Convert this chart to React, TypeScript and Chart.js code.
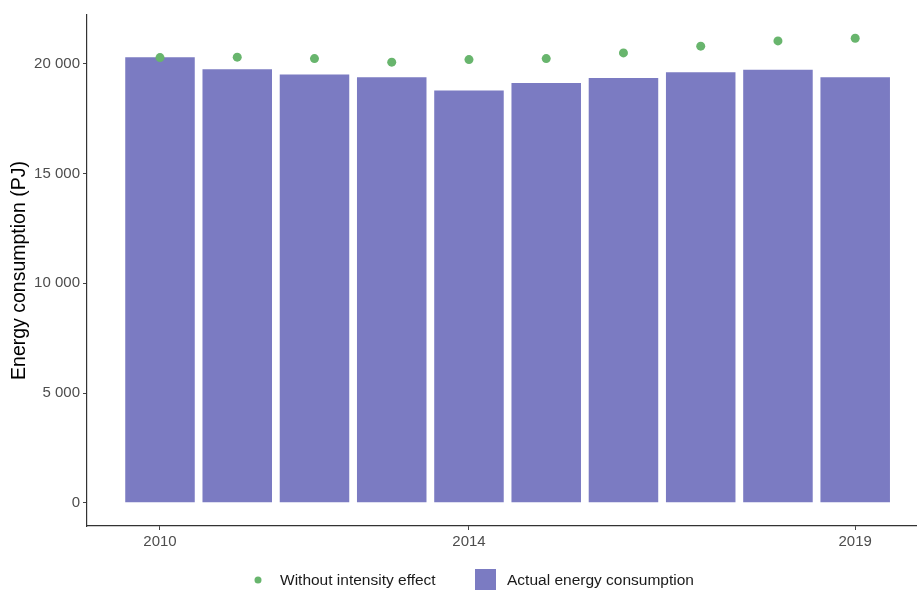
import React, { useEffect, useRef } from "react";
import { Chart, registerables } from "chart.js";

Chart.register(...registerables);

// Annual energy consumption, 2010–2019 (PJ)
const years = [2010, 2011, 2012, 2013, 2014, 2015, 2016, 2017, 2018, 2019];
const actualConsumption = [20305, 19759, 19514, 19395, 18786, 19123, 19350, 19623, 19727, 19395];
const withoutIntensityEffect = [20286, 20305, 20241, 20077, 20195, 20241, 20500, 20805, 21045, 21168];
const xTickValues = [2010, 2014, 2019];
const yTickValues = [0, 5000, 10000, 15000, 20000];

const seriesLabels = ["Without intensity effect", "Actual energy consumption"];
const BAR_COLOR = "#7b7bc2";
const DOT_COLOR = "#68b56d";
const FONT = "'Liberation Sans', Arial, sans-serif";

const formatThousands = (v: number) =>
  String(Math.round(v)).replace(/\B(?=(\d{3})+(?!\d))/g, " ");

// Bottom legend: small dot for the points, filled square for the bars
const bottomLegend = {
  id: "bottomLegend",
  afterDraw(chart: any) {
    const ctx = chart.ctx as CanvasRenderingContext2D;
    const y = 581;
    ctx.save();
    ctx.font = `15.5px ${FONT}`;
    ctx.textBaseline = "middle";
    ctx.textAlign = "left";

    ctx.fillStyle = DOT_COLOR;
    ctx.beginPath();
    ctx.arc(258, 580, 3.5, 0, Math.PI * 2);
    ctx.fill();
    ctx.fillStyle = "#1a1a1a";
    ctx.fillText(seriesLabels[0], 280, y);

    ctx.fillStyle = BAR_COLOR;
    ctx.fillRect(475, 569, 21, 21);
    ctx.fillStyle = "#1a1a1a";
    ctx.fillText(seriesLabels[1], 507, y);
    ctx.restore();
  },
};

export default function App() {
  const canvasRef = useRef<HTMLCanvasElement | null>(null);

  useEffect(() => {
    if (!canvasRef.current) return;
    const chart = new Chart(canvasRef.current, {
      type: "bar",
      data: {
        datasets: [
          {
            type: "scatter",
            label: seriesLabels[0],
            data: years.map((x, i) => ({ x, y: withoutIntensityEffect[i] })),
            backgroundColor: DOT_COLOR,
            borderColor: DOT_COLOR,
            pointRadius: 4.5,
            pointBorderWidth: 0,
            order: 0,
          } as any,
          {
            type: "bar",
            label: seriesLabels[1],
            data: years.map((x, i) => ({ x, y: actualConsumption[i] })),
            backgroundColor: BAR_COLOR,
            borderWidth: 0,
            barPercentage: 0.9,
            categoryPercentage: 1.0,
            order: 1,
          } as any,
        ],
      },
      options: {
        responsive: false,
        animation: false,
        layout: { autoPadding: false, padding: { top: 15, right: 0, bottom: 34, left: 0 } },
        plugins: {
          legend: { display: false },
          tooltip: { enabled: false },
        },
        scales: {
          x: {
            type: "linear",
            min: 2009.055,
            max: 2019.8,
            offset: false,
            grid: {
              offset: false,
              drawOnChartArea: false,
              drawTicks: true,
              tickLength: 4,
              color: "#444",
            },
            border: { display: true, color: "#333", width: 1.2 },
            afterBuildTicks: (s: any) => {
              s.ticks = xTickValues.map((value) => ({ value }));
            },
            afterFit: (s: any) => {
              s.height = 30;
              s.paddingLeft = 0;
              s.paddingRight = 0;
            },
            ticks: {
              autoSkip: false,
              maxRotation: 0,
              padding: 3,
              color: "#4d4d4d",
              font: { family: FONT, size: 15 },
              callback: (v: any) => String(v),
            },
          },
          y: {
            type: "linear",
            min: -1058,
            max: 22226,
            grid: {
              drawOnChartArea: false,
              drawTicks: true,
              tickLength: 4,
              color: "#444",
            },
            border: { display: true, color: "#333", width: 1.2 },
            afterBuildTicks: (s: any) => {
              s.ticks = yTickValues.map((value) => ({ value }));
            },
            afterFit: (s: any) => {
              s.width = 87;
            },
            title: {
              display: true,
              text: "Energy consumption (PJ)",
              color: "#000",
              font: { family: FONT, size: 19.5 },
              padding: { top: 8, bottom: 0 },
            },
            ticks: {
              padding: 3,
              color: "#4d4d4d",
              font: { family: FONT, size: 15 },
              callback: (v: any) => formatThousands(Number(v)),
            },
          },
        },
      },
      plugins: [bottomLegend],
    });
    return () => chart.destroy();
  }, []);

  return (
    <div style={{ position: "absolute", left: 0, top: 0, width: 917, height: 590, background: "#fff" }}>
      <canvas ref={canvasRef} width={917} height={590} />
    </div>
  );
}
